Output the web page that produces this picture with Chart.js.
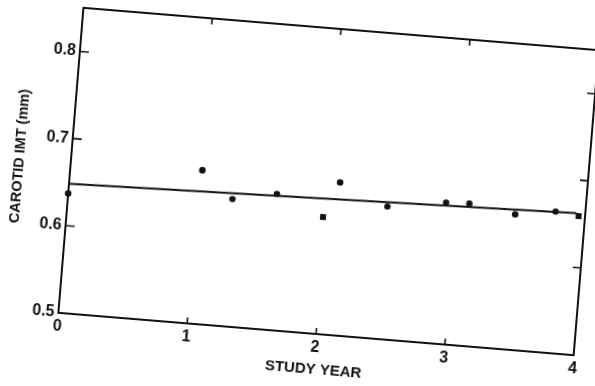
<!DOCTYPE html>
<html>
<head>
<meta charset="utf-8">
<script src="https://cdn.jsdelivr.net/npm/chart.js@4.4.0/dist/chart.umd.min.js"></script>
<style>
html, body { margin: 0; padding: 0; background: #fff; overflow: hidden; }
#wrap { width: 595px; height: 386px; }
/* the scanned figure is tilted a little clockwise */
#imtChart { display: block; transform: rotate(4.7deg); }
</style>
</head>
<body>
<div id="wrap"><canvas id="imtChart" width="595" height="386"></canvas></div>
<script>
const studyYears = [0, 1.02, 1.27, 1.61, 1.98, 2.09, 2.47, 2.92, 3.10, 3.46, 3.77, 3.95];
const imtValues  = [0.637, 0.676, 0.646, 0.656, 0.634, 0.675, 0.652, 0.662, 0.663, 0.655, 0.662, 0.659];
const markers    = ['circle', 'circle', 'circle', 'circle', 'rect', 'circle', 'circle', 'circle', 'circle', 'circle', 'circle', 'rect'];

// fitted line, end points
const fitYears = [0, 3.93];
const fitImt   = [0.648, 0.662];

const yTicks = [0.5, 0.6, 0.7, 0.8];
const innerYTicks = [0.6, 0.7, 0.8];
const innerXTicks = [1, 2, 3];

const ink = '#111';

function toPoints(xs, ys) {
    const out = [];
    for (let i = 0; i < xs.length; ++i) {
        out.push({x: xs[i], y: ys[i]});
    }
    return out;
}

// box round the plot plus the small inward ticks on every side
const frameAndTicks = {
    id: 'frameAndTicks',
    beforeDatasetsDraw(chart) {
        const {ctx, chartArea: a, scales: {x, y}} = chart;
        ctx.save();
        ctx.strokeStyle = ink;
        ctx.lineWidth = 2;
        ctx.strokeRect(a.left, a.top, a.right - a.left, a.bottom - a.top);
        ctx.lineWidth = 1.6;
        ctx.beginPath();
        innerYTicks.forEach(v => {
            const py = y.getPixelForValue(v);
            ctx.moveTo(a.left, py); ctx.lineTo(a.left + 9, py);
            ctx.moveTo(a.right, py); ctx.lineTo(a.right - 8, py);
        });
        innerXTicks.forEach(v => {
            const px = x.getPixelForValue(v);
            ctx.moveTo(px, a.bottom); ctx.lineTo(px, a.bottom - 6);
            ctx.moveTo(px, a.top); ctx.lineTo(px, a.top + 6);
        });
        ctx.stroke();
        ctx.restore();
    }
};

const data = {
    datasets: [{
        type: 'scatter',
        label: 'IMT',
        data: toPoints(studyYears, imtValues),
        pointStyle: markers,
        pointRadius: [3.3, 3.3, 3.2, 3.2, 4.2, 3.3, 3.2, 3.2, 3.2, 3.3, 3.2, 4.2],
        backgroundColor: ink,
        borderColor: ink,
        borderWidth: 0,
        clip: false
    }, {
        type: 'line',
        label: 'fit',
        data: toPoints(fitYears, fitImt),
        borderColor: ink,
        borderWidth: 2,
        pointRadius: 0,
        fill: false,
        clip: false
    }]
};

const tickFont = {family: 'Liberation Sans', size: 16, weight: 'bold'};
const titleFont = {family: 'Liberation Sans', size: 14.5, weight: 'bold'};

const config = {
    data,
    options: {
        responsive: false,
        animation: false,
        layout: {padding: {top: 26, right: 9, left: 0, bottom: 0}},
        plugins: {legend: {display: false}, tooltip: {enabled: false}},
        scales: {
            x: {
                type: 'linear',
                min: 0,
                max: 4,
                grid: {display: false, drawTicks: false},
                border: {display: false},
                ticks: {stepSize: 1, color: ink, font: tickFont, padding: 4},
                title: {display: true, text: 'STUDY YEAR', color: ink,
                        font: {family: 'Liberation Sans', size: 15, weight: 'bold'},
                        padding: {top: 0, bottom: 9}},
                afterFit: scale => { scale.height = 54; }
            },
            y: {
                type: 'linear',
                min: 0.5,
                max: 0.85,
                grid: {display: false, drawTicks: false},
                border: {display: false},
                afterBuildTicks: scale => { scale.ticks = yTicks.map(v => ({value: v})); },
                ticks: {color: ink, font: tickFont, padding: 4,
                        callback: v => v.toFixed(1)},
                title: {display: true, text: 'CAROTID IMT (mm)', color: ink,
                        font: titleFont, padding: {top: 9, bottom: 0}},
                afterFit: scale => { scale.width = 69; }
            }
        }
    },
    plugins: [frameAndTicks]
};

const imtChart = new Chart(document.getElementById('imtChart'), config);
</script>
</body>
</html>
